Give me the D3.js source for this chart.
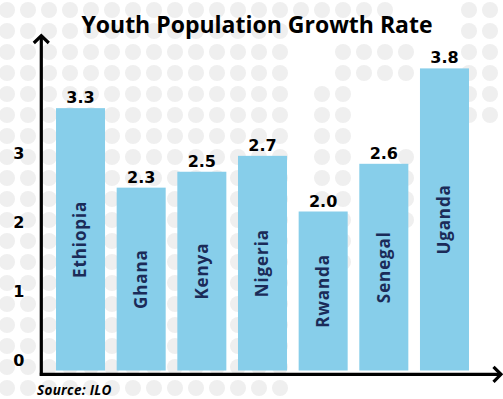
<!DOCTYPE html>
<html>
<head>
<meta charset="utf-8">
<script src="https://cdn.jsdelivr.net/npm/d3@7"></script>
<style>
  html, body { margin: 0; padding: 0; background: #fff; }
  svg { display: block; }
</style>
</head>
<body>
<svg id="chart" width="503" height="399"></svg>
<script>
// Youth population growth rate (%) by country
const countries = ["Ethiopia", "Ghana", "Kenya", "Nigeria", "Rwanda", "Senegal", "Uganda"];
const growthRates = [3.3, 2.3, 2.5, 2.7, 2.0, 2.6, 3.8];
const yTickValues = [0, 1, 2, 3];
const titleText = "Youth Population Growth Rate";
const sourceText = "Source: ILO";

const W = 503, H = 399;
const svg = d3.select("#chart");

svg.append("rect").attr("width", W).attr("height", H).attr("fill", "#ffffff");

// Decorative halftone dot field in the background
const dotZones = [
  [0, 0, 300, 399],
  [300, 0, 400, 15],
  [340, 40, 420, 80],
  [310, 90, 350, 280],
  [350, 190, 362, 260],
  [460, 0, 503, 125],
  [400, 150, 420, 240]
];
const dotCols = d3.range(0, 25), dotRows = d3.range(0, 19);
const dots = [];
dotCols.forEach(i => dotRows.forEach(j => {
  const cx = 7 + 21 * i, cy = 10 + 21 * j;
  if (dotZones.some(z => cx >= z[0] && cx <= z[2] && cy >= z[1] && cy <= z[3])) dots.push([cx, cy]);
}));
svg.append("g").selectAll("circle").data(dots).join("circle")
  .attr("cx", d => d[0]).attr("cy", d => d[1]).attr("r", 8)
  .attr("fill", "#efefef");

// Scales
const x = d3.scaleBand().domain(countries).range([40, 485])
  .paddingInner(0.192).paddingOuter(0.264);
const y = d3.scaleLinear().domain([0, 4]).range([370.5, 52.5]);
// Tick labels sit on their own evenly spaced ladder
const yTicks = d3.scaleLinear().domain([0, 3]).range([360, 153]);

const numFont = "'DejaVu Sans', sans-serif";
const labelFont = "'Open Sans', sans-serif";

// Bars
svg.append("g").selectAll("rect").data(countries).join("rect")
  .attr("x", d => x(d))
  .attr("width", x.bandwidth())
  .attr("y", (d, i) => y(growthRates[i]))
  .attr("height", (d, i) => y(0) - y(growthRates[i]))
  .attr("fill", "#87ceea");

// Value labels above bars
svg.append("g").selectAll("text").data(countries).join("text")
  .attr("x", d => x(d) + x.bandwidth() / 2)
  .attr("y", (d, i) => y(growthRates[i]) - 5)
  .attr("text-anchor", "middle")
  .attr("font-family", numFont)
  .attr("font-weight", 700)
  .attr("font-size", 16)
  .attr("fill", "#000")
  .text((d, i) => growthRates[i].toFixed(1));

// Country names written vertically inside the bars
svg.append("g").selectAll("text").data(countries).join("text")
  .attr("transform", (d, i) => {
    const cx = x(d) + x.bandwidth() / 2;
    const cy = (y(growthRates[i]) + y(0)) / 2;
    return `translate(${cx},${cy}) rotate(-90)`;
  })
  .attr("text-anchor", "middle")
  .attr("dy", "0.35em")
  .attr("font-family", labelFont)
  .attr("font-weight", 700)
  .attr("font-size", 17)
  .attr("letter-spacing", 0.9)
  .attr("fill", "#1b2b58")
  .text(d => d);

// Y tick labels
const yAxis = d3.axisLeft(yTicks).tickValues(yTickValues).tickSize(0).tickPadding(0)
  .tickFormat(d3.format("d"));
const gy = svg.append("g").attr("transform", "translate(24.5,0)").call(yAxis);
gy.select(".domain").remove();
gy.selectAll("text")
  .attr("font-family", numFont)
  .attr("font-weight", 700)
  .attr("font-size", 16)
  .attr("fill", "#000");

// Axis lines with open arrowheads
const axisX = x.range()[0] + 1.3;
const axisY = y(0) + 3.8;
const axisTop = 35, axisRight = 502;
const axes = svg.append("g").attr("fill", "none").attr("stroke", "#000")
  .attr("stroke-width", 3.2).attr("stroke-linejoin", "miter");
axes.append("path").attr("d", `M${axisX},${axisY + 1.5}V${axisTop + 1}`);
axes.append("path").attr("d", `M${axisX - 1.5},${axisY}H${axisRight - 1}`);
axes.append("path").attr("d", `M${axisX - 7.5},${axisTop + 8}L${axisX},${axisTop + 0.8}L${axisX + 7.5},${axisTop + 8}`);
axes.append("path").attr("d", `M${axisRight - 8.5},${axisY - 7.5}L${axisRight - 1},${axisY}L${axisRight - 8.5},${axisY + 7.5}`);

// Title
svg.append("text")
  .attr("x", 257).attr("y", 33)
  .attr("text-anchor", "middle")
  .attr("font-family", labelFont)
  .attr("font-weight", 700)
  .attr("font-size", 23)
  .attr("fill", "#000")
  .text(titleText);

// Source note
svg.append("text")
  .attr("x", 37).attr("y", 395)
  .attr("font-family", labelFont)
  .attr("font-weight", 700)
  .attr("font-style", "italic")
  .attr("font-size", 13.5)
  .attr("letter-spacing", 0.3)
  .attr("fill", "#000")
  .text(sourceText);
</script>
</body>
</html>
